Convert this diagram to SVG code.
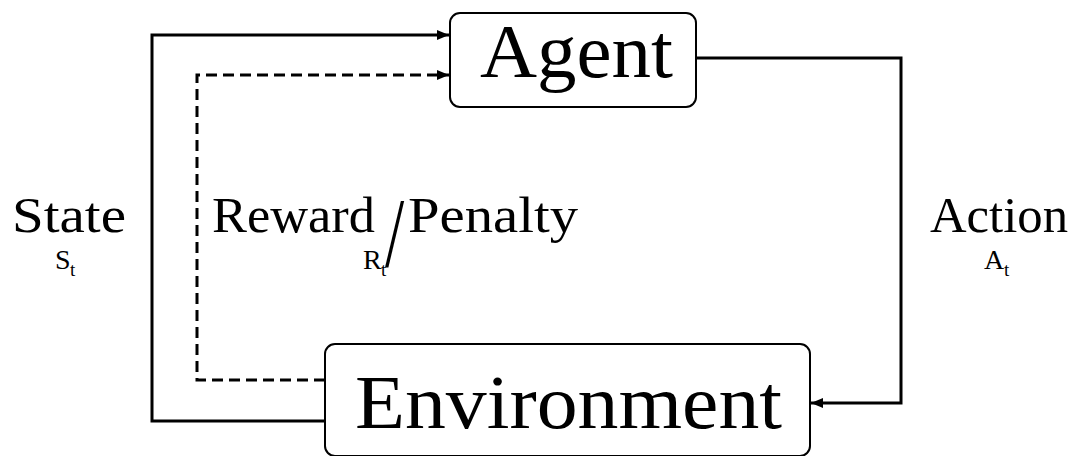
<svg xmlns="http://www.w3.org/2000/svg" width="1074" height="456" viewBox="0 0 1074 456">
<style>
.box{fill:#fff;stroke:#000;stroke-width:2}
.c{fill:none;stroke:#000;stroke-width:3}
.d{stroke-dasharray:11 6}
text{font-family:"Liberation Serif","DejaVu Serif",serif;fill:#000}
.big{font-size:76px}
.lab{font-size:51px}
.sub{font-size:28px}
.ss{font-size:19px}
</style>
<defs>
<marker id="ah" markerUnits="userSpaceOnUse" markerWidth="12" markerHeight="10" refX="12" refY="5" orient="auto">
<path d="M0,0 L12,5 L0,10 z" fill="#000"/>
</marker>
</defs>
<g id="connectors">
<path class="c" d="M325,421 H152 V35 H449" marker-end="url(#ah)"/>
<path class="c d" d="M325,380 H197 V75 H449" marker-end="url(#ah)"/>
<path class="c" d="M696,58 H901 V403 H811" marker-end="url(#ah)"/>
</g>
<g id="agent">
<rect class="box" x="450" y="13" width="246" height="94" rx="10"/>
<text class="big" x="480" y="77" textLength="193" lengthAdjust="spacingAndGlyphs">Agent</text>
</g>
<g id="environment">
<rect class="box" x="325" y="344" width="485" height="112" rx="10"/>
<text class="big" x="355" y="428" textLength="427" lengthAdjust="spacingAndGlyphs">Environment</text>
</g>
<g id="labels">
<text class="lab" x="12" y="232" textLength="114" lengthAdjust="spacingAndGlyphs">State</text>
<text class="sub" x="55" y="269">S</text><text class="ss" x="70" y="276">t</text>
<text class="lab" x="212" y="232" textLength="163" lengthAdjust="spacingAndGlyphs">Reward</text>
<text transform="translate(385,266) scale(1.38,1.97)" x="0" y="0" font-size="50">/</text>
<text class="lab" x="408" y="232" textLength="170" lengthAdjust="spacingAndGlyphs">Penalty</text>
<text class="sub" x="363" y="269">R</text><text class="ss" x="381" y="276">t</text>
<text class="lab" x="930" y="232" textLength="138" lengthAdjust="spacingAndGlyphs">Action</text>
<text class="sub" x="984" y="269">A</text><text class="ss" x="1004" y="276">t</text>
</g>
</svg>
